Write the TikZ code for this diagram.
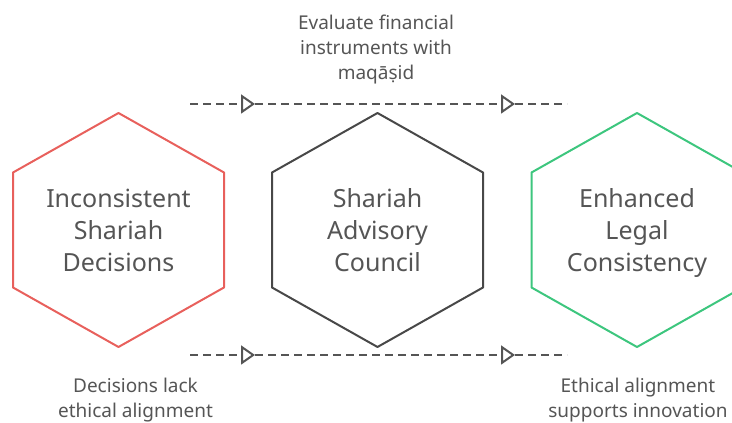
\documentclass[tikz,border=0pt]{standalone}
\usepackage{fontspec}
\setmainfont{Noto Sans}
\usetikzlibrary{arrows.meta,calc}
\definecolor{hexred}{HTML}{E8605C}
\definecolor{hexgray}{HTML}{484848}
\definecolor{hexgreen}{HTML}{3DC67E}
\definecolor{txtgray}{HTML}{555555}
\tikzset{
  hexlabel/.style={align=center,text=txtgray,font=\fontsize{25}{32}\selectfont,text depth=0pt},
  note/.style={align=center,text=txtgray,font=\fontsize{19}{25}\selectfont},
  flow/.style={draw=txtgray,line width=2pt,dash pattern=on 8pt off 5pt},
  flowtip/.style={-{Triangle[open,length=14pt,width=19pt,line width=2pt]}}
}
\begin{document}
\begin{tikzpicture}[x=1pt,y=1pt]
  \useasboundingbox (0,0) rectangle (732,423);
  \node[hexlabel] (incons) at (118.5,193) {Inconsistent\\Shariah\\Decisions};
  \node[hexlabel] (council) at (377.5,193) {Shariah\\Advisory\\Council};
  \node[hexlabel] (legal) at (637,193) {Enhanced\\Legal\\Consistency};
  \foreach \h/\col in {incons/hexred,council/hexgray,legal/hexgreen}
    \draw[\col,line width=2pt,line join=round]
      ($(\h.center)+(0,117)$) -- ($(\h.center)+(105.5,57.5)$)
      -- ($(\h.center)+(105.5,-57.5)$) -- ($(\h.center)+(0,-117)$)
      -- ($(\h.center)+(-105.5,-57.5)$) -- ($(\h.center)+(-105.5,57.5)$) -- cycle;
  % flow lines
  \coordinate (top0) at (190,319);
  \coordinate (top1) at (255,319);
  \coordinate (top2) at (515,319);
  \coordinate (top3) at (567,319);
  \coordinate (bot0) at (190,68);
  \coordinate (bot1) at (255,68);
  \coordinate (bot2) at (515,68);
  \coordinate (bot3) at (567,68);
  \begin{scope}[flow]
    \draw[flowtip] (top0) to (top1);
    \draw[flowtip] (top1) to (top2);
    \draw (top2) to (top3);
    \draw[flowtip] (bot0) to (bot1);
    \draw[flowtip] (bot1) to (bot2);
    \draw (bot2) to (bot3);
  \end{scope}
  \node[note] (evaluate) at (376,373.4) {Evaluate financial\\instruments with\\maqāṣid};
  \node[note] (lack) at (135.5,23) {Decisions lack\\ethical alignment};
  \node[note] (supports) at (638,23) {Ethical alignment\\supports innovation};
\end{tikzpicture}
\end{document}
